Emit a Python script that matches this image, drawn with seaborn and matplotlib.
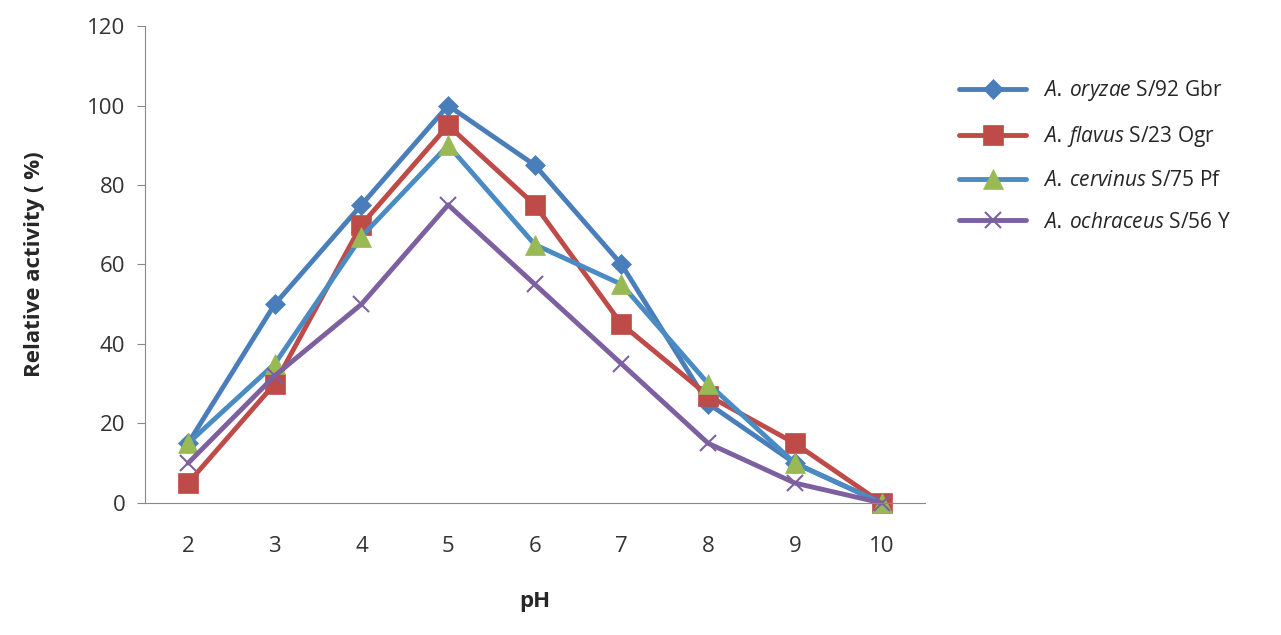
import numpy as np
import pandas as pd
import seaborn as sns
import matplotlib.pyplot as plt

sns.set_style('white')
plt.rcParams['font.family'] = ['Open Sans', 'DejaVu Sans']
plt.rcParams['mathtext.fontset'] = 'custom'
plt.rcParams['mathtext.it'] = 'Open Sans:italic'

ph = [2, 3, 4, 5, 6, 7, 8, 9, 10]
oryzae = [15, 50, 75, 100, 85, 60, 25, 10, 0]
flavus = [5, 30, 70, 95, 75, 45, 27, 15, 0]
cervinus = [15, 35, 67, 90, 65, 55, 30, 10, 0]
ochraceus = [10, 32, 50, 75, 55, 35, 15, 5, 0]

series = [
    ('oryzae', 'S/92 Gbr', oryzae, '#4a7ebb', '#4a7ebb', 'D', 10),
    ('flavus', 'S/23 Ogr', flavus, '#be4b48', '#be4b48', 's', 14),
    ('cervinus', 'S/75 Pf', cervinus, '#4a8bc4', '#98b954', '^', 14),
    ('ochraceus', 'S/56 Y', ochraceus, '#7d60a0', '#7d60a0', 'x', 12),
]

fig = plt.figure(figsize=(12.81, 6.35), dpi=100)
ax = fig.add_axes([0.113, 0.208, 0.609, 0.751])

for name, strain, vals, lc, mc, mk, ms in series:
    df = pd.DataFrame({'pH': ph, 'act': vals})
    sns.lineplot(data=df, x='pH', y='act', ax=ax, color=lc, lw=3.5,
                 marker=mk, markersize=ms, markerfacecolor=mc,
                 markeredgecolor=mc, markeredgewidth=1.5 if mk == 'x' else 0.5,
                 label=f'$\\mathit{{A.\\,{name}}}$ {strain}')
for ln in ax.lines:
    ln.set_clip_on(False)

ax.set_xlim(1.55, 10.5)
ax.set_ylim(0, 120)
ax.set_xticks(ph)
ax.set_xticks(np.arange(1.5, 11, 1), minor=True)
ax.tick_params(axis='x', which='major', length=0, pad=24, labelsize=16, colors='#333333')
ax.tick_params(axis='x', which='minor', length=6, color='#888888')
ax.tick_params(axis='y', length=6, color='#888888', labelsize=16, colors='#333333', left=True, pad=8)
ax.set_yticks(range(0, 121, 20))
for s in ['top', 'right']:
    ax.spines[s].set_visible(False)
for s in ['left', 'bottom']:
    ax.spines[s].set_color('#888888')
ax.set_xlabel('pH', fontsize=16, fontweight='bold', labelpad=24)
ax.set_ylabel('Relative activity ( %)', fontsize=16, fontweight='bold', labelpad=30)
ax.legend(loc='upper left', bbox_to_anchor=(1.02, 0.93), frameon=False,
          fontsize=15, labelspacing=1.0, handlelength=3.2)

fig.savefig('out.png', dpi=100)
